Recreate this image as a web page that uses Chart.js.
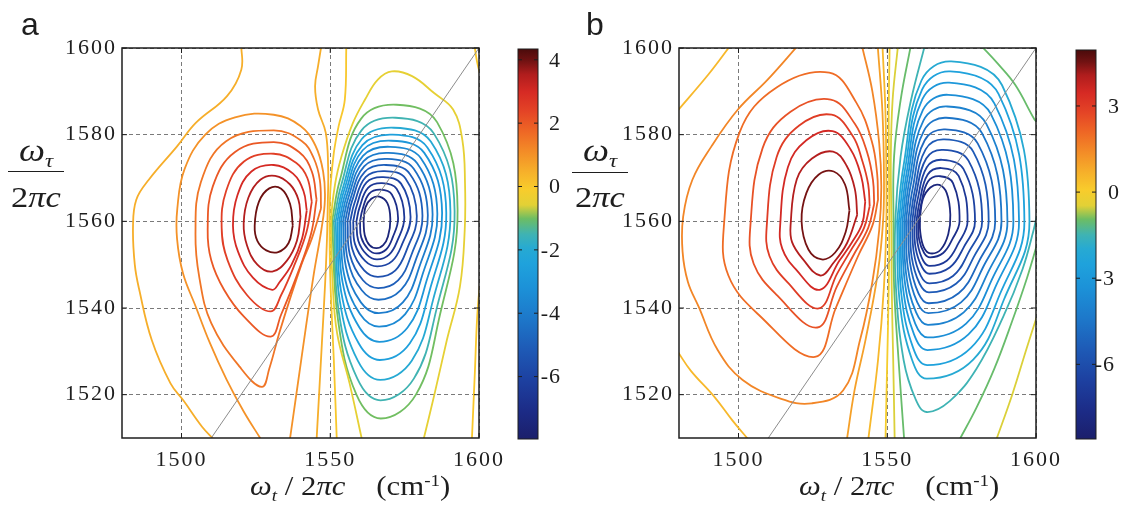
<!DOCTYPE html>
<html>
<head>
<meta charset="utf-8">
<script src="https://cdn.jsdelivr.net/npm/chart.js@4.4.1/dist/chart.umd.min.js"></script>
<style>
  html, body { margin: 0; padding: 0; background: #fff; }
  body { width: 1122px; height: 508px; position: relative; overflow: hidden; }
  canvas { position: absolute; top: 0; }
  .t { position: absolute; white-space: nowrap; color: #1e1e1e; line-height: 1;
       font-family: "Liberation Serif", "Times New Roman", serif; }
  .panel { font-family: "Liberation Sans", Arial, sans-serif; font-size: 32px; }
  .c { text-align: center; transform-origin: 50% 0; transform: scaleX(1.15); }
  .x { transform-origin: 0 0; transform: scaleX(1.14); font-size: 27px; }
  .bar { position: absolute; height: 0; border-top: 1.6px solid #1e1e1e; }
  sub { font-size: 62%; vertical-align: -0.32em; }
  sup { font-size: 62%; vertical-align: 0.55em; }
</style>
</head>
<body>
<canvas id="plotA" width="510" height="480" style="left:0px"></canvas>
<canvas id="barA" width="80" height="480" style="left:500px"></canvas>
<canvas id="plotB" width="510" height="480" style="left:557px"></canvas>
<canvas id="barB" width="64" height="480" style="left:1058px"></canvas>

<div class="t panel" style="left:21px;top:8px">a</div>
<div class="t panel" style="left:586px;top:8px">b</div>

<div class="t c" style="left:6px;top:134px;width:60px;font-size:32px"><i>ω</i><sub><i>τ</i></sub></div>
<div class="bar" style="left:8px;top:171px;width:56px"></div>
<div class="t c" style="left:6px;top:182px;width:60px;font-size:30px">2<i>πc</i></div>

<div class="t c" style="left:570px;top:134px;width:60px;font-size:32px"><i>ω</i><sub><i>τ</i></sub></div>
<div class="bar" style="left:572px;top:172px;width:56px"></div>
<div class="t c" style="left:570px;top:182px;width:60px;font-size:30px">2<i>πc</i></div>

<div class="t x" style="left:250px;top:473px"><i>ω</i><sub><i>t</i></sub> / 2<i>πc</i>&nbsp;&nbsp;&nbsp; (cm<sup>-1</sup>)</div>
<div class="t x" style="left:799px;top:473px"><i>ω</i><sub><i>t</i></sub> / 2<i>πc</i>&nbsp;&nbsp;&nbsp; (cm<sup>-1</sup>)</div>

<script>
// ---- axes ----
const X_RANGE = [1480, 1600];
const Y_RANGE = [1510, 1600];
const X_TICKS = [1500, 1550, 1600];
const Y_TICKS = [1520, 1540, 1560, 1580, 1600];
const DIAGONAL = [[1510, 1510], [1600, 1600]];

// ---- colour bars ----
const A_CBAR_RANGE = [-7.97, 4.34];
const A_CBAR_TICKS = [4, 2, 0, -2, -4, -6];
const B_CBAR_RANGE = [-8.6, 4.95];
const B_CBAR_TICKS = [3, 0, -3, -6];

// ---- panel a: positive lobe ----
const A_P40 = [[1524.6,1559],[1526,1564.5],[1529.5,1567.6],[1533.5,1567.5],[1536.5,1564],[1537.4,1559],[1536,1555],[1532.5,1552.9],[1528.5,1553.3],[1525.5,1555.5]];
const A_P35 = [[1520.9,1559.5],[1522.5,1565.5],[1526.5,1569.6],[1531.5,1570.5],[1536.5,1568.5],[1539.3,1565],[1540.0,1561],[1538.8,1555.5],[1535.5,1551],[1530.5,1548.4],[1525.5,1550],[1522,1554.5]];
const A_P30 = [[1517.3,1559],[1518.8,1566],[1523.5,1571.5],[1531,1573],[1537.5,1571],[1541,1567],[1542.1,1562.5],[1540.5,1556],[1537,1550],[1533,1546],[1530.5,1544.2],[1524,1547],[1519,1553]];
const A_P25 = [[1513.5,1558.5],[1515,1567],[1521,1573.8],[1531,1575.6],[1538.5,1573.5],[1542.3,1570],[1543.8,1564.5],[1542,1557.5],[1538,1550],[1533.5,1543],[1530,1539.2],[1522,1543],[1515.5,1551]];
const A_P20 = [[1508.8,1558],[1510.5,1568],[1518,1576],[1531,1578.3],[1539.5,1576],[1543.8,1571.5],[1545.4,1565],[1543.5,1557],[1538.5,1547],[1533.5,1538.5],[1530,1533.4],[1521,1538],[1514.3,1544.2],[1510,1551]];
const A_P15 = [[1504.7,1557],[1506.5,1569],[1515,1578.5],[1531,1581],[1540.5,1578.5],[1544.5,1574.5],[1546.5,1569.5],[1546.9,1563],[1543.8,1556],[1540.3,1550],[1533.2,1535],[1529.5,1526],[1527,1521.8],[1519.6,1526.4],[1510,1536.5],[1506,1547]];
const A_P10 = [[1526.9,1509.5],[1521,1516],[1515.2,1523.4],[1509.5,1532],[1504.8,1540.3],[1500.5,1548],[1498.5,1556],[1498.6,1563],[1501,1572],[1508,1580],[1518,1584],[1531,1584.6],[1540,1582],[1545,1577.5],[1547.6,1571.5],[1548.2,1565],[1547.0,1558],[1544.5,1548],[1541.7,1535],[1539,1522],[1536.4,1509.5]];
const A_P05_LEFT = [[1520.1,1600.5],[1520.1,1595],[1515.3,1588.9],[1504.8,1582.7],[1498.5,1577.3],[1489,1569.6],[1484.8,1565],[1483.7,1558.8],[1484.3,1550],[1485.8,1544.2],[1490,1532.6],[1496.3,1522.6],[1500.6,1518.7],[1506.9,1512.6],[1511.1,1509.5]];
const A_P05_RIGHT = [[1547,1600.5],[1545.9,1595.8],[1544.9,1591.2],[1545.9,1585.8],[1548.5,1580.4],[1549.3,1572],[1549.2,1565],[1548.9,1556],[1548.3,1546],[1547.2,1532],[1545.4,1509.5]];
const A_ZERO = [[1555.4,1600.5],[1554.9,1588.1],[1552.8,1581.9],[1551.2,1575.8],[1550.1,1568],[1549.8,1560],[1549.9,1550],[1550.4,1540],[1551.2,1528],[1552.2,1509.5]];
const A_ZERO_BR = [[1597.6,1509.5],[1598.6,1525],[1599.4,1538],[1600.5,1547.2]];
const A_ZERO_TR = [[1598.5,1600.5],[1599.3,1597],[1600.5,1593.5]];

// ---- panel a: negative lobe ----
const A_N05 = [[1560.7,1509.5],[1556.5,1522.6],[1552.3,1534.2],[1550.8,1546],[1550.3,1560],[1551.6,1568.5],[1553.8,1575.0],[1557.5,1582.5],[1561.7,1588.1],[1566,1592.7],[1570.7,1594.6],[1577.5,1593.5],[1584.9,1589.6],[1591.3,1585.8],[1594.4,1578.8],[1595.3,1568.8],[1595.2,1558],[1593.6,1545],[1589.2,1532.6],[1585,1520],[1581.3,1509.5]];
const A_N10 = [[1572.3,1586.9],[1585.9,1582.9],[1592.8,1562.7],[1586.5,1537.3],[1578.8,1520.0],[1567.0,1514.5],[1558.8,1520.0],[1552.6,1537.3],[1550.6,1560],[1553.2,1569.4],[1560.4,1583.7]];
const A_N15 = [[1571.9,1583.9],[1584.8,1580.3],[1591.8,1562.4],[1585.6,1539.4],[1578.1,1523.7],[1566.9,1518.7],[1559.1,1523.7],[1552.8,1539.4],[1551.2,1560],[1553.7,1568.4],[1560.5,1581.0]];
const A_N20 = [[1571.4,1581.6],[1583.8,1578.4],[1590.4,1562.2],[1584.5,1541.7],[1577.4,1527.8],[1566.8,1523.4],[1559.3,1527.8],[1553.2,1541.7],[1551.8,1560],[1554.2,1567.6],[1560.6,1579.0]];
const A_N25 = [[1571.0,1580.0],[1582.7,1577.0],[1589.0,1562.0],[1583.4,1544.0],[1576.7,1531.8],[1566.7,1528.0],[1559.6,1531.8],[1553.6,1544.0],[1552.4,1560],[1554.6,1567.0],[1560.8,1577.6]];
const A_N30 = [[1570.5,1578.6],[1581.6,1575.8],[1587.6,1561.9],[1582.3,1546.1],[1576.0,1535.5],[1566.5,1532.2],[1559.8,1535.5],[1554.1,1546.1],[1553.0,1560],[1555.1,1566.5],[1560.9,1576.4]];
const A_N35 = [[1570.1,1577.2],[1580.4,1574.6],[1586.0,1561.7],[1581.1,1547.9],[1575.2,1538.6],[1566.4,1535.7],[1560.0,1538.6],[1554.6,1547.9],[1553.6,1560],[1555.6,1566.0],[1561.0,1575.1]];
const A_N40 = [[1569.6,1575.8],[1579.2,1573.4],[1584.4,1561.6],[1579.9,1549.4],[1574.4,1541.3],[1566.3,1538.8],[1560.3,1541.3],[1555.3,1549.4],[1554.3,1560],[1556.1,1565.5],[1561.2,1573.9]];
const A_N45 = [[1569.2,1574.4],[1578.0,1572.2],[1582.8,1561.4],[1578.7,1551.0],[1573.7,1544.1],[1566.2,1541.9],[1560.6,1544.1],[1555.9,1551.0],[1555.0,1560],[1556.7,1565.0],[1561.4,1572.7]];
const A_N50 = [[1568.7,1573.0],[1576.7,1571.0],[1581.0,1561.3],[1577.3,1552.3],[1572.8,1546.4],[1566.1,1544.6],[1561.0,1546.4],[1556.6,1552.3],[1555.8,1560],[1557.3,1564.6],[1561.6,1571.4]];
const A_N55 = [[1568.3,1571.6],[1575.3,1569.9],[1579.1,1561.2],[1575.8,1553.6],[1571.9,1548.7],[1566.0,1547.2],[1561.4,1548.7],[1557.4,1553.6],[1556.7,1560],[1558.1,1564.1],[1561.9,1570.2]];
const A_N60 = [[1567.8,1570.2],[1573.8,1568.7],[1577.0,1561.0],[1574.2,1554.8],[1570.8,1550.8],[1565.8,1549.6],[1561.8,1550.8],[1558.3,1554.8],[1557.7,1560],[1558.9,1563.6],[1562.2,1569.0]];
const A_N65 = [[1567.4,1568.8],[1572.3,1567.5],[1574.9,1560.9],[1572.6,1555.6],[1569.8,1552.3],[1565.7,1551.2],[1562.3,1552.3],[1559.4,1555.6],[1558.8,1560],[1559.8,1563.1],[1562.7,1567.7]];
const A_N70 = [[1566.9,1567.3],[1570.7,1566.2],[1572.8,1560.7],[1571.0,1556.3],[1568.8,1553.5],[1565.6,1552.6],[1562.8,1553.5],[1560.4,1556.3],[1560.0,1560],[1560.8,1562.6],[1563.1,1566.4]];
const A_N75 = [[1566.5,1565.7],[1569.2,1564.2],[1570.2,1560.5],[1569.4,1556.5],[1567.8,1554.5],[1565.5,1553.8],[1563.2,1554.5],[1561.6,1556.8],[1561.2,1560],[1561.8,1563.2],[1563.8,1565.2]];

// ---- panel b: positive lobe ----
const B_P45 = [[1521.2,1560],[1522.8,1566.5],[1527,1570.8],[1532,1571.5],[1535.8,1568.5],[1537.3,1562.5],[1536,1557.5],[1532.5,1552.8],[1528,1551.2],[1523.5,1553.5]];
const B_P40 = [[1517.5,1559],[1519.6,1569.7],[1524.7,1574.5],[1531.8,1576.1],[1536.3,1572.9],[1539.1,1567.5],[1539.9,1561.5],[1536.5,1555],[1532,1550.5],[1527.5,1547.5],[1521.5,1551.4],[1518.0,1555.2]];
const B_P35 = [[1514.0,1559],[1516.6,1572.5],[1522.8,1578.7],[1531.6,1580.8],[1537.7,1576.6],[1541.2,1570.5],[1542.6,1564.5],[1541.6,1559.5],[1538,1555],[1534,1551],[1527.3,1544.2],[1519.3,1548.9],[1514.7,1553.7]];
const B_P30 = [[1509.5,1559],[1512.8,1574.8],[1520.4,1582.1],[1531.3,1584.6],[1538.4,1579.7],[1541.6,1574],[1543.6,1568.5],[1544.1,1563.5],[1542.2,1558.5],[1537.5,1553],[1533.2,1548],[1527.0,1539.9],[1516.5,1545.9],[1510.4,1552.0]];
const B_P25 = [[1504.0,1559],[1508.1,1576.9],[1517.5,1585.3],[1531.0,1588.1],[1539.1,1582.5],[1543.2,1576],[1545.2,1569.5],[1545.6,1564],[1543.6,1558.5],[1538.5,1552],[1533.1,1545],[1526.5,1535.5],[1513.0,1542.9],[1505.1,1550.2]];
const B_P20 = [[1495.1,1559],[1500.4,1580.6],[1512.8,1590.9],[1530.5,1594.3],[1539.6,1587.4],[1544.8,1578.5],[1546.6,1571],[1546.9,1565],[1545.0,1559],[1540.2,1552],[1532.7,1540],[1525.7,1528.7],[1507.3,1538.1],[1496.6,1547.5]];
const B_P15 = [[1519.9,1600.5],[1509.8,1592.7],[1499.8,1585.8],[1490.9,1577.3],[1484.5,1569.6],[1481.4,1561.1],[1481.2,1553],[1483,1546],[1486.6,1540.3],[1493,1530.3],[1501.4,1523.4],[1514.1,1519.1],[1524.6,1518.0],[1535.2,1521.0],[1541,1533],[1545,1546],[1547.3,1558],[1548,1568],[1547.3,1578],[1545,1590],[1541.5,1600.5]];
const B_P10 = [[1546.8,1600.5],[1548.4,1585],[1548.9,1570],[1548.6,1560],[1546.8,1548],[1542.8,1533],[1539,1521],[1536.4,1509.5]];
const B_P05_TOPLEFT = [[1497.2,1600.5],[1490,1594],[1479.5,1585.5]];
const B_P05_LOWLEFT = [[1479.5,1530],[1484,1525.5],[1491.9,1519.5],[1498,1514],[1503.5,1509.5]];
const B_P05 = [[1548.4,1600.5],[1549.4,1585],[1549.7,1570],[1549.7,1560],[1548.9,1545],[1546.9,1528],[1543.6,1509.5]];
const B_ZERO = [[1550.8,1600.5],[1550.5,1585],[1550.6,1570],[1550.7,1560],[1550.5,1545],[1550,1528],[1549.4,1509.5]];

// ---- panel b: negative lobe ----
const B_N05_BAND = [[1553.6,1600.5],[1551.8,1588],[1551.2,1575],[1551.4,1560],[1551.5,1545],[1552,1528],[1552.5,1509.5]];
const B_N05_CORNER = [[1586.6,1509.5],[1592,1520],[1597,1531],[1600.5,1538.5]];
const B_N10_BAND = [[1557.9,1600.5],[1554.5,1588],[1552.3,1575],[1552.1,1560],[1552.3,1545],[1553.8,1528],[1555.7,1509.5]];
const B_N10_LOWRIGHT = [[1574.2,1509.5],[1580,1517],[1586,1526],[1592,1537],[1597,1547],[1600.5,1555]];
const B_N10_TOPRIGHT = [[1581.6,1600.5],[1587,1596.5],[1593,1591.5],[1599.5,1583.5],[1600.5,1582.8]];
const B_N15 = [[1562.6,1600.5],[1558,1588],[1554.5,1575],[1552.7,1560],[1552.9,1545],[1555.5,1528],[1559.5,1519],[1563.2,1516],[1571,1518.5],[1580,1526],[1589,1538],[1595.5,1549],[1599.2,1558],[1600.5,1562]];
const B_N20 = [[1571.5,1596.9],[1588.6,1591.4],[1597.8,1560],[1589.2,1541.9],[1578.9,1528.1],[1563.3,1523.7],[1558.3,1528.1],[1554.1,1541.9],[1553.3,1560],[1555.5,1572.9],[1561.5,1592.5]];
const B_N25 = [[1571.2,1594.6],[1587.4,1589.4],[1596.1,1560],[1588.0,1543.4],[1578.1,1530.8],[1563.4,1526.8],[1558.7,1530.8],[1554.7,1543.4],[1553.9,1560],[1556.0,1572.1],[1561.7,1590.4]];
const B_N30 = [[1570.8,1592.0],[1586.0,1587.2],[1594.3,1560],[1586.6,1545.2],[1577.3,1533.9],[1563.5,1530.3],[1559.0,1533.9],[1555.2,1545.2],[1554.5,1560],[1556.5,1571.2],[1561.8,1588.2]];
const B_N35 = [[1570.5,1589.2],[1584.8,1584.8],[1592.4,1560],[1585.2,1546.6],[1576.5,1536.4],[1563.6,1533.2],[1559.4,1536.4],[1555.8,1546.6],[1555.1,1560],[1556.9,1570.2],[1562.0,1585.7]];
const B_N40 = [[1570.2,1586.5],[1583.3,1582.5],[1590.4,1560],[1583.8,1548.1],[1575.7,1539.0],[1563.7,1536.1],[1559.7,1539.0],[1556.3,1548.1],[1555.7,1560],[1557.4,1569.3],[1562.2,1583.3]];
const B_N45 = [[1569.8,1583.9],[1581.9,1580.3],[1588.4,1560],[1582.2,1549.4],[1574.8,1541.3],[1563.8,1538.8],[1560.1,1541.3],[1556.9,1549.4],[1556.3,1560],[1557.9,1568.4],[1562.4,1581.0]];
const B_N50 = [[1569.5,1581.2],[1580.4,1578.0],[1586.3,1560],[1580.7,1550.6],[1574.0,1543.4],[1563.9,1541.1],[1560.5,1543.4],[1557.6,1550.6],[1557.0,1560],[1558.5,1567.4],[1562.6,1578.7]];
const B_N55 = [[1569.2,1578.9],[1578.9,1576.1],[1584.1,1560],[1579.1,1551.8],[1573.1,1545.6],[1564.0,1543.6],[1560.9,1545.6],[1558.2,1551.8],[1557.7,1560],[1559.1,1566.6],[1562.9,1576.6]];
const B_N60 = [[1568.8,1576.5],[1577.3,1574.0],[1581.9,1560],[1577.4,1552.9],[1572.1,1547.4],[1564.1,1545.7],[1561.3,1547.4],[1558.9,1552.9],[1558.4,1560],[1559.6,1565.8],[1563.1,1574.5]];
const B_N65 = [[1568.5,1574.2],[1575.6,1572.1],[1579.5,1560],[1575.7,1554.0],[1571.1,1549.4],[1564.2,1547.9],[1561.7,1549.4],[1559.5,1554.0],[1559.1,1560],[1560.2,1565.0],[1563.3,1572.5]];
const B_N70 = [[1568.2,1572.3],[1574.0,1570.5],[1577.0,1560],[1573.9,1554.9],[1570.0,1550.9],[1564.3,1549.7],[1562.1,1550.9],[1560.2,1554.9],[1559.8,1560],[1560.8,1564.3],[1563.6,1570.8]];
const B_N75 = [[1567.8,1570.4],[1572.1,1568.8],[1574.3,1560],[1571.9,1555.9],[1568.8,1552.7],[1564.4,1551.7],[1562.4,1552.7],[1560.7,1555.9],[1560.4,1560],[1561.3,1563.6],[1563.7,1569.2]];
const B_N80 = [[1567.5,1568.4],[1570,1566.5],[1571.2,1561.5],[1570.5,1557],[1568,1553.5],[1564.5,1552.6],[1562.3,1554],[1561.1,1557.5],[1561.0,1561],[1562,1565.2],[1564.5,1567.8]];

// level, path, closed
const A_CONTOURS = [
  [4.0, A_P40, true], [3.5, A_P35, true], [3.0, A_P30, true], [2.5, A_P25, true],
  [2.0, A_P20, true], [1.5, A_P15, true], [1.0, A_P10, false],
  [0.5, A_P05_LEFT, false], [0.5, A_P05_RIGHT, false],
  [0, A_ZERO, false], [0, A_ZERO_BR, false], [0, A_ZERO_TR, false],
  [-0.5, A_N05, false], [-1.0, A_N10, true], [-1.5, A_N15, true], [-2.0, A_N20, true],
  [-2.5, A_N25, true], [-3.0, A_N30, true], [-3.5, A_N35, true], [-4.0, A_N40, true],
  [-4.5, A_N45, true], [-5.0, A_N50, true], [-5.5, A_N55, true], [-6.0, A_N60, true],
  [-6.5, A_N65, true], [-7.0, A_N70, true], [-7.5, A_N75, true]
];
const B_CONTOURS = [
  [4.5, B_P45, true], [4.0, B_P40, true], [3.5, B_P35, true], [3.0, B_P30, true],
  [2.5, B_P25, true], [2.0, B_P20, true], [1.5, B_P15, false], [1.0, B_P10, false],
  [0.5, B_P05_TOPLEFT, false], [0.5, B_P05_LOWLEFT, false], [0.5, B_P05, false],
  [0, B_ZERO, false],
  [-0.5, B_N05_BAND, false], [-0.5, B_N05_CORNER, false],
  [-1.0, B_N10_BAND, false], [-1.0, B_N10_LOWRIGHT, false], [-1.0, B_N10_TOPRIGHT, false],
  [-1.5, B_N15, false], [-2.0, B_N20, true], [-2.5, B_N25, true], [-3.0, B_N30, true],
  [-3.5, B_N35, true], [-4.0, B_N40, true], [-4.5, B_N45, true], [-5.0, B_N50, true],
  [-5.5, B_N55, true], [-6.0, B_N60, true], [-6.5, B_N65, true], [-7.0, B_N70, true],
  [-7.5, B_N75, true], [-8.0, B_N80, true]
];

// ---- colour map (navy -> blue -> cyan -> green -> yellow -> orange -> red -> dark red) ----
const CMAP = [
  [0.00, '#1b1f6b'], [0.07, '#1c2b86'], [0.15, '#1d40a0'], [0.23, '#1e5ab6'],
  [0.31, '#1d78ca'], [0.39, '#1c92d8'], [0.45, '#1fa2dc'], [0.49, '#27aad2'],
  [0.525, '#3fb3b3'], [0.565, '#6dbd63'], [0.60, '#e2d136'], [0.64, '#f8cc2c'],
  [0.69, '#f6ad2a'], [0.74, '#f38a27'], [0.79, '#ee6625'], [0.84, '#e44426'],
  [0.89, '#d62a24'], [0.935, '#b01d1d'], [0.97, '#701212'], [1.00, '#4a0b0b']
];
function hexRgb(h) { return [1, 3, 5].map(i => parseInt(h.substr(i, 2), 16)); }
function cmapColor(f) {
  f = Math.max(0, Math.min(1, f));
  for (let i = 1; i < CMAP.length; i++) {
    if (f <= CMAP[i][0]) {
      const [f0, c0] = CMAP[i - 1], [f1, c1] = CMAP[i];
      const t = (f - f0) / (f1 - f0), a = hexRgb(c0), b = hexRgb(c1);
      return 'rgb(' + a.map((v, k) => Math.round(v + (b[k] - v) * t)).join(',') + ')';
    }
  }
  return CMAP[CMAP.length - 1][1];
}

// close a ring, starting on the side that faces the nodal line so the seam is smooth
function closeRing(pts, level) {
  let k = 0;
  for (let i = 1; i < pts.length; i++) {
    if (level < 0 ? pts[i][0] < pts[k][0] : pts[i][0] > pts[k][0]) k = i;
  }
  const r = pts.slice(k).concat(pts.slice(0, k));
  r.push(r[0]);
  return r;
}

const SERIF = '"Liberation Serif", "Times New Roman", serif';
const INK = '#1e1e1e';

const spacing = {
  id: 'spacing',
  beforeDraw(chart) { chart.ctx.letterSpacing = '2px'; }
};

const frame = {
  id: 'frame',
  afterDatasetsDraw(chart) {
    const { ctx, chartArea: a, scales: { x, y } } = chart;
    ctx.save();
    ctx.strokeStyle = INK;
    ctx.lineWidth = 1.5;
    ctx.strokeRect(a.left, a.top, a.right - a.left, a.bottom - a.top);
    ctx.lineWidth = 1;
    ctx.beginPath();
    for (const v of X_TICKS) {
      const p = x.getPixelForValue(v);
      ctx.moveTo(p, a.bottom); ctx.lineTo(p, a.bottom - 5);
      ctx.moveTo(p, a.top); ctx.lineTo(p, a.top + 5);
    }
    for (const v of Y_TICKS) {
      const p = y.getPixelForValue(v);
      ctx.moveTo(a.left, p); ctx.lineTo(a.left + 5, p);
      ctx.moveTo(a.right, p); ctx.lineTo(a.right - 5, p);
    }
    ctx.stroke();
    ctx.restore();
  }
};

function makePlot(id, contours, range) {
  const sets = [{
    data: DIAGONAL, borderColor: '#8c8c8c', borderWidth: 1, pointRadius: 0,
    showLine: true, tension: 0, clip: 0, order: 0
  }];
  for (const [lvl, pts, closed] of contours) {
    sets.push({
      data: closed ? closeRing(pts, lvl) : pts,
      borderColor: cmapColor((lvl - range[0]) / (range[1] - range[0])),
      borderWidth: 1.8, pointRadius: 0, showLine: true, tension: 0.4,
      clip: 0, order: 1
    });
  }
  const tickFont = { family: SERIF, size: 22 };
  return new Chart(document.getElementById(id), {
    type: 'scatter',
    data: { datasets: sets },
    options: {
      responsive: false, animation: false, events: [],
      layout: { padding: { left: 0, top: 48, right: 9, bottom: 0 } },
      plugins: { legend: { display: false }, tooltip: { enabled: false } },
      scales: {
        x: {
          type: 'linear', min: X_RANGE[0], max: X_RANGE[1],
          afterBuildTicks: s => { s.ticks = X_TICKS.map(v => ({ value: v })); },
          afterFit: s => { s.height = 42; },
          grid: { color: '#7a7a7a', lineWidth: 1, drawTicks: false },
          border: { display: false, dash: [4, 3] },
          ticks: { color: INK, font: tickFont, padding: 9, maxRotation: 0, autoSkip: false, callback: v => String(v) }
        },
        y: {
          type: 'linear', min: Y_RANGE[0], max: Y_RANGE[1],
          afterBuildTicks: s => { s.ticks = Y_TICKS.map(v => ({ value: v })); },
          afterFit: s => { s.width = 122; },
          grid: { color: '#7a7a7a', lineWidth: 1, drawTicks: false },
          border: { display: false, dash: [4, 3] },
          ticks: { color: INK, font: tickFont, padding: 5, autoSkip: false, callback: v => String(v) }
        }
      }
    },
    plugins: [spacing, frame]
  });
}

function makeColorbar(id, range, ticks, posRight, negRight, padTop, axisWidth) {
  const cbar = {
    id: 'cbar',
    afterDatasetsDraw(chart) {
      const { ctx, chartArea: a, scales: { y } } = chart;
      ctx.save();
      ctx.strokeStyle = INK;
      ctx.lineWidth = 1;
      ctx.strokeRect(a.left, a.top, a.right - a.left, a.bottom - a.top);
      ctx.beginPath();
      for (const v of ticks) {
        const p = y.getPixelForValue(v);
        ctx.moveTo(a.left, p); ctx.lineTo(a.left + 4, p);
        ctx.moveTo(a.right, p); ctx.lineTo(a.right - 4, p);
      }
      ctx.stroke();
      ctx.letterSpacing = '1px';
      ctx.fillStyle = INK;
      ctx.font = '22px ' + SERIF;
      ctx.textAlign = 'right';
      ctx.textBaseline = 'middle';
      for (const v of ticks) {
        ctx.fillText(String(v), v < 0 ? negRight : posRight, y.getPixelForValue(v) + 1);
      }
      ctx.restore();
    }
  };
  return new Chart(document.getElementById(id), {
    type: 'bar',
    data: {
      labels: [''],
      datasets: [{
        data: [[range[0], range[1]]],
        borderWidth: 0, barPercentage: 1, categoryPercentage: 1,
        backgroundColor(c) {
          const ch = c.chart;
          if (!ch.chartArea) return 'transparent';
          const y = ch.scales.y;
          const g = ch.ctx.createLinearGradient(0, y.getPixelForValue(range[0]), 0, y.getPixelForValue(range[1]));
          for (const [f, col] of CMAP) g.addColorStop(f, col);
          return g;
        }
      }]
    },
    options: {
      responsive: false, animation: false, events: [],
      layout: { padding: { left: 18, right: 0, top: padTop, bottom: 41 } },
      plugins: { legend: { display: false }, tooltip: { enabled: false } },
      scales: {
        x: { display: false },
        y: {
          position: 'right', min: range[0], max: range[1],
          afterBuildTicks: s => { s.ticks = ticks.map(v => ({ value: v })); },
          afterFit: s => { s.width = axisWidth; },
          ticks: { display: false }, grid: { display: false }, border: { display: false }
        }
      }
    },
    plugins: [cbar]
  });
}

makePlot('plotA', A_CONTOURS, A_CBAR_RANGE);
makePlot('plotB', B_CONTOURS, B_CBAR_RANGE);
makeColorbar('barA', A_CBAR_RANGE, A_CBAR_TICKS, 61, 61, 49, 42);
makeColorbar('barB', B_CBAR_RANGE, B_CBAR_TICKS, 62, 57, 50, 26);
</script>
</body>
</html>
